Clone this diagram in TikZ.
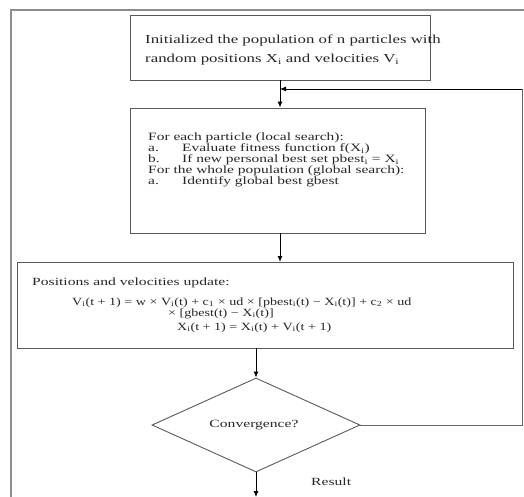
\documentclass[tikz,border=0pt]{standalone}
\usepackage{fontspec}
\setmainfont{Liberation Serif}
\newfontfamily\serifA[FakeStretch=1.38]{Liberation Serif}
\newfontfamily\serifB[FakeStretch=1.38]{Liberation Serif}
\newfontfamily\serifC[FakeStretch=1.42]{Liberation Serif}
\newfontfamily\serifD[FakeStretch=1.28]{Liberation Serif}
\usetikzlibrary{shapes.geometric,arrows.meta}
\begin{document}
\begin{tikzpicture}[x=1pt,y=-1pt,
  boxline/.style={draw=black!65,line width=0.9pt},
  procbox/.style={boxline,rectangle,inner sep=0pt},
  txt/.style={anchor=base west,inner sep=0pt,text=black!85},
  txtA/.style={txt,font=\serifA\fontsize{12.2}{14}\selectfont},
  txtB/.style={txt,font=\serifB\fontsize{11.2}{13}\selectfont},
  txtC/.style={txt,font=\serifC\fontsize{11}{13}\selectfont},
  txtD/.style={txt,font=\serifD\fontsize{11}{13}\selectfont},
  arr/.style={draw=black,line width=0.9pt,-{Latex[length=6pt,width=5pt]}},
  fbline/.style={draw=black!60,line width=0.9pt}]
\useasboundingbox (0,0) rectangle (524,497);
% outer frame
\draw[draw=black!45,line width=1.2pt] (11,497) -- (11,10) -- (524,10);
% boxes
\node[procbox,minimum width=300pt,minimum height=65pt] (b1) at (280,47.5) {};
\node[procbox,minimum width=295pt,minimum height=125pt] (b2) at (277.5,170.5) {};
\node[procbox,minimum width=496pt,minimum height=86pt] (b3) at (265,305) {};
\node[boxline,diamond,inner sep=0pt,minimum width=208pt,minimum height=94pt] (d) at (256,425) {};
% texts
\node[txtA] (t1a) at (145,44) {Initialized the population of n particles with};
\node[txtA] (t1b) at (145,63) {random positions X\textsubscript{i} and velocities V\textsubscript{i}};
\node[txtB] (t2a) at (148,141) {For each particle (local search):};
\node[txtB] (t2b) at (148,152) {a.};
\node[txtB] (t2c) at (182,152) {Evaluate fitness function f(X\textsubscript{i})};
\node[txtB] (t2d) at (148,163) {b.};
\node[txtB] (t2e) at (182,163) {If new personal best set pbest\textsubscript{i} = X\textsubscript{i}};
\node[txtB] (t2f) at (148,174) {For the whole population (global search):};
\node[txtB] (t2g) at (148,185) {a.};
\node[txtB] (t2h) at (182,185) {Identify global best gbest};
\node[txtC] (t3a) at (32,285) {Positions and velocities update:};
\node[txtD] (t3b) at (72,305) {V\textsubscript{i}(t + 1) = w × V\textsubscript{i}(t) + c\textsubscript{1} × ud × [pbest\textsubscript{i}(t) − X\textsubscript{i}(t)] + c\textsubscript{2} × ud};
\node[txtD] (t3c) at (168,316) {× [gbest(t) − X\textsubscript{i}(t)]};
\node[txtD] (t3d) at (177,330) {X\textsubscript{i}(t + 1) = X\textsubscript{i}(t) + V\textsubscript{i}(t + 1)};
\node[txtC] (t4) at (254,425) [anchor=center] {Convergence?};
\node[txtC] (res) at (311,485) {Result};
% connectors
\coordinate (m) at (280,89);
\coordinate (r) at (522,89);
\coordinate (out) at (256,497);
\draw[arr] (b1.south) -- (b1.south |- b2.north);
\draw[arr] (280,233) -- (280,262);
\draw[arr] (b3.south -| d.north) -- (d.north);
\draw[fbline] (d.east) -| (r);
\draw[arr] (r) -- (m);
\draw[arr] (d.south) -- (out);
\end{tikzpicture}
\end{document}
